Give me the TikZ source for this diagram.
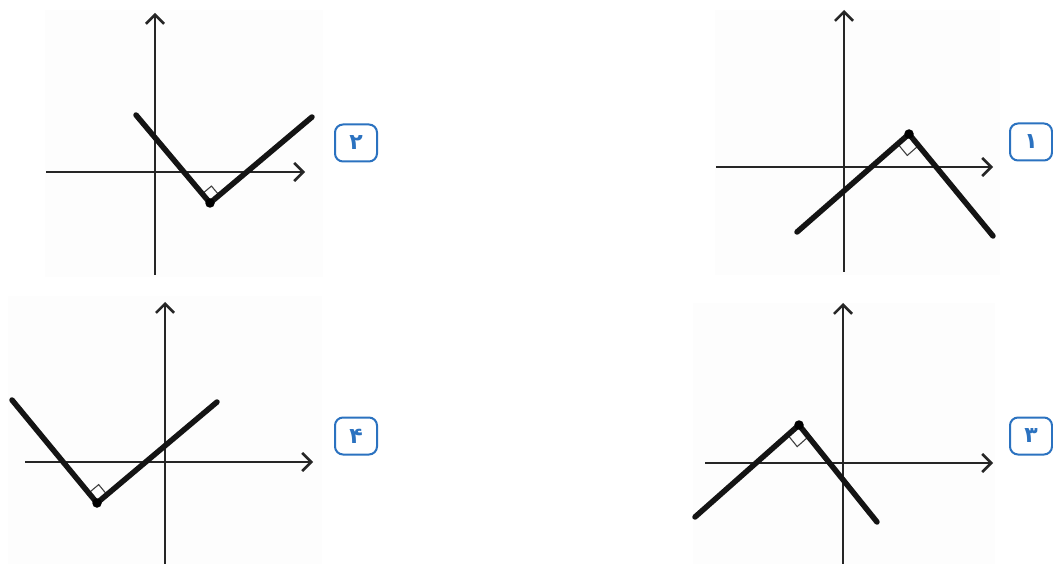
\documentclass[tikz,border=0pt]{standalone}
\usepackage{fontspec}
\newfontfamily\arabicfont[Script=Arabic]{DejaVu Sans}
\usetikzlibrary{arrows.meta,calc}
\definecolor{labelblue}{HTML}{2B72C0}
\definecolor{panelbg}{HTML}{FDFDFD}
\begin{document}
\begin{tikzpicture}[x=1pt,y=-1pt,
  axis/.style={line width=2.8pt,draw=black!85,-{Straight Barb[length=9pt,width=18pt,line width=2.6pt]}},
  graphline/.style={line width=5.5pt,draw=black!92,line cap=round},
  rightmark/.style={line width=1.1pt,draw=black!75},
  vdot/.style={circle,fill=black,inner sep=0pt,minimum size=9.5pt},
  numbox/.style={draw=labelblue,line width=2pt,rounded corners=8pt,minimum width=42pt,minimum height=37pt,text=labelblue,font=\arabicfont\bfseries\fontsize{22}{24}\selectfont,inner sep=0pt},
  panel/.style={fill=panelbg,draw=none}
]
\useasboundingbox (0,0) rectangle (1053,564);
\fill[white] (0,0) rectangle (1053,564);
% faint panel backgrounds
\path[panel] (45,10) rectangle (323,277);
\path[panel] (715,10) rectangle (1000,275);
\path[panel] (8,296) rectangle (322,564);
\path[panel] (693,303) rectangle (995,564);

% ---------- Panel 1 (top right) ----------
\coordinate (a1b) at (844,272); \coordinate (a1t) at (844,10);
\coordinate (a1l) at (716,167); \coordinate (a1r) at (993,167);
\draw[axis] (a1b) -- (a1t);
\draw[axis] (a1l) -- (a1r);
\coordinate (p1L) at (797,232); \coordinate (p1V) at (909,134); \coordinate (p1R) at (993,236);
\coordinate (m1a) at ($(p1V)!15pt!(p1L)$); \coordinate (m1b) at ($(p1V)!15pt!(p1R)$);
\draw[rightmark] (m1a) -- ($(m1a)+(m1b)-(p1V)$) -- (m1b);
\draw[graphline] (p1L) -- (p1V) -- (p1R);
\node[vdot] (d1) at (p1V) {};
\node[numbox] (n1) at (1031,142) {۱};

% ---------- Panel 2 (top left) ----------
\coordinate (a2b) at (155,275); \coordinate (a2t) at (155,13);
\coordinate (a2l) at (46,172); \coordinate (a2r) at (305,172);
\draw[axis] (a2b) -- (a2t);
\draw[axis] (a2l) -- (a2r);
\coordinate (p2L) at (136,115); \coordinate (p2V) at (210,203); \coordinate (p2R) at (312,117);
\coordinate (m2a) at ($(p2V)!12pt!(p2L)$); \coordinate (m2b) at ($(p2V)!12pt!(p2R)$);
\draw[rightmark] (m2a) -- ($(m2a)+(m2b)-(p2V)$) -- (m2b);
\draw[graphline] (p2L) -- (p2V) -- (p2R);
\node[vdot] (d2) at (p2V) {};
\node[numbox] (n2) at (356,143) {۲};

% ---------- Panel 3 (bottom right) ----------
\coordinate (a3b) at (843,564); \coordinate (a3t) at (843,303);
\coordinate (a3l) at (705,463); \coordinate (a3r) at (993,463);
\draw[axis] (a3b) -- (a3t);
\draw[axis] (a3l) -- (a3r);
\coordinate (p3L) at (695,517); \coordinate (p3V) at (799,425); \coordinate (p3R) at (877,522);
\coordinate (m3a) at ($(p3V)!15pt!(p3L)$); \coordinate (m3b) at ($(p3V)!15pt!(p3R)$);
\draw[rightmark] (m3a) -- ($(m3a)+(m3b)-(p3V)$) -- (m3b);
\draw[graphline] (p3L) -- (p3V) -- (p3R);
\node[vdot] (d3) at (p3V) {};
\node[numbox] (n3) at (1031,436) {۳};

% ---------- Panel 4 (bottom left) ----------
\coordinate (a4b) at (165,564); \coordinate (a4t) at (165,302);
\coordinate (a4l) at (25,462); \coordinate (a4r) at (313,462);
\draw[axis] (a4b) -- (a4t);
\draw[axis] (a4l) -- (a4r);
\coordinate (p4L) at (12,400); \coordinate (p4V) at (97,503); \coordinate (p4R) at (217,402);
\coordinate (m4a) at ($(p4V)!13pt!(p4L)$); \coordinate (m4b) at ($(p4V)!13pt!(p4R)$);
\draw[rightmark] (m4a) -- ($(m4a)+(m4b)-(p4V)$) -- (m4b);
\draw[graphline] (p4L) -- (p4V) -- (p4R);
\node[vdot] (d4) at (p4V) {};
\node[numbox] (n4) at (356,436) {۴};
\end{tikzpicture}
\end{document}
